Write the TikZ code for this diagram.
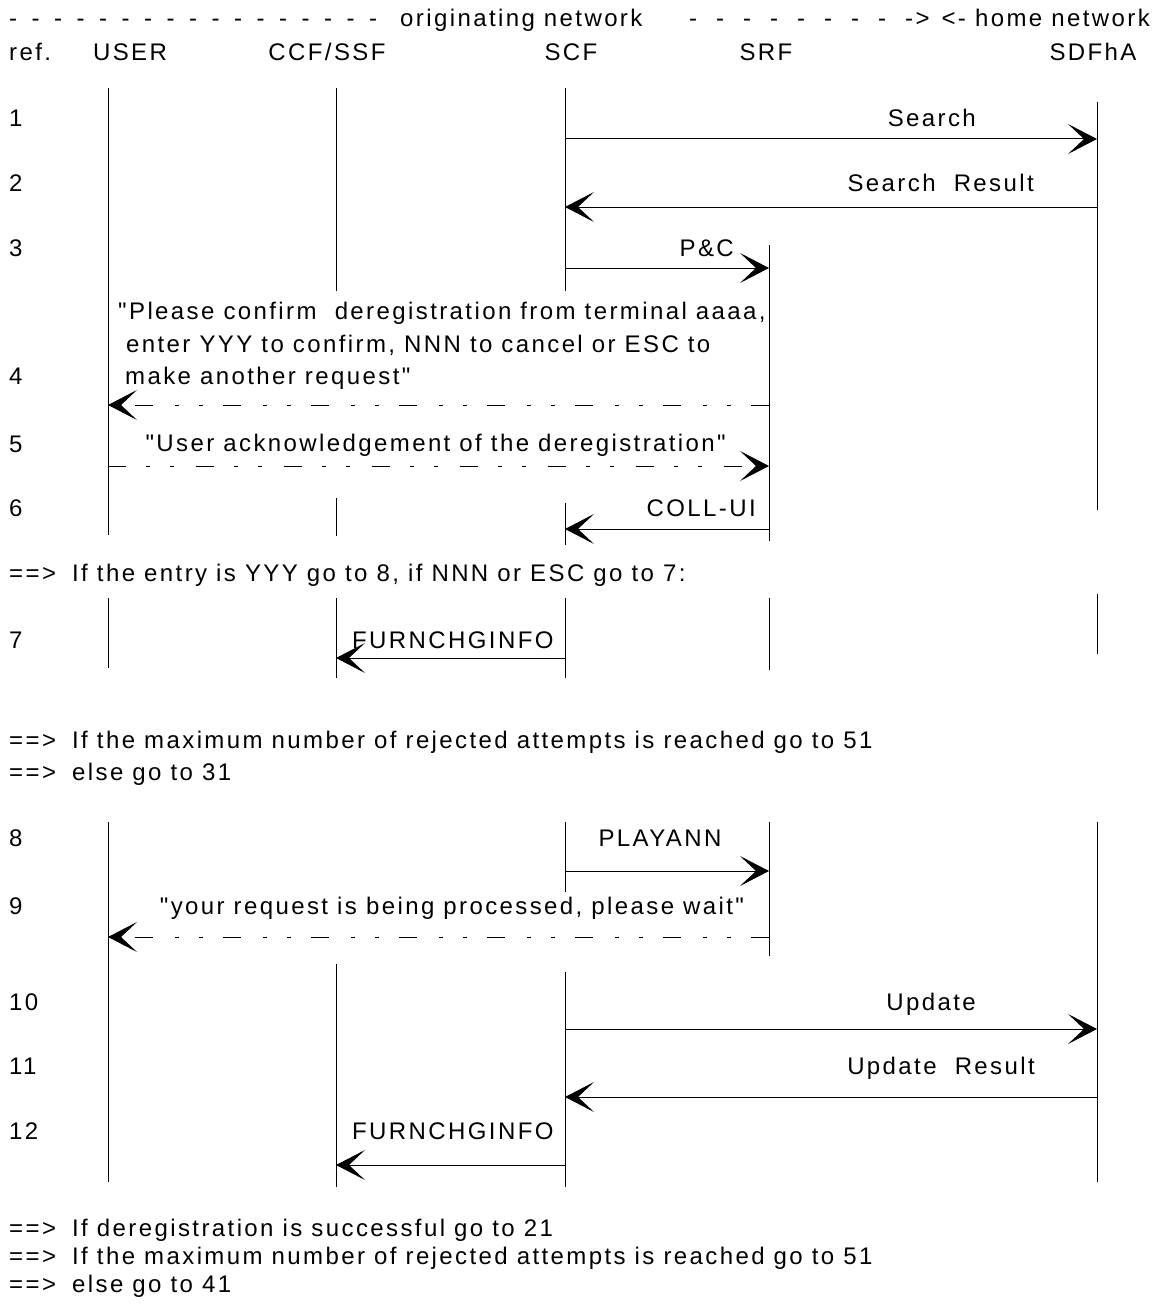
\documentclass[tikz,border=0pt]{standalone}
\usepackage{fontspec}
\newfontfamily\lsf[LetterSpace=10]{Liberation Sans}
\usetikzlibrary{arrows.meta}
\begin{document}
\begin{tikzpicture}[x=1pt,y=-1pt,
  txt/.style={font=\lsf\fontsize{24}{33}\selectfont, inner sep=0pt, text height=17pt, text depth=0pt},
  life/.style={line width=0.9pt},
  msg/.style={line width=1pt, -{Stealth[length=29pt,width=30pt,inset=16pt]}},
  ui/.style={msg, dash pattern=on 18pt off 20pt on 4pt off 20pt on 4pt off 22pt}]
\useasboundingbox (0,0) rectangle (1160,1308);
\def\xU{108}\def\xC{336}\def\xS{565}\def\xR{769}\def\xD{1097}
% header
\node[txt,anchor=west] (hdl) at (9,18) {{\spaceskip=14.5pt - - - - - - - - - - - - - - - - -}};
\node[txt,anchor=west] (orig) at (400,18) {originating network};
\node[txt,anchor=west] (hdr) at (689,18) {{\spaceskip=19pt - - - - - - - - ->}};
\node[txt,anchor=east] (home) at (1150,18) {<- home network};
\node[txt,anchor=west] (ref) at (9,52) {ref.};
\node[txt] (nU) at (130,52) {USER};
\node[txt] (nC) at (327,52) {CCF/SSF};
\node[txt] (nS) at (571,52) {SCF};
\node[txt] (nR) at (766,52) {SRF};
\node[txt] (nD) at (1093,52) {SDFhA};
% lifelines block A
\draw[life] (\xU,88) coordinate (uA1) -- (\xU,535) coordinate (uA2);
\draw[life] (\xC,88) coordinate (cA1) -- (\xC,291) coordinate (cA2);
\draw[life] (\xC,498) coordinate (cA3) -- (\xC,536) coordinate (cA4);
\draw[life] (\xS,88) coordinate (sA1) -- (\xS,291) coordinate (sA2);
\draw[life] (\xS,503) coordinate (sA3) -- (\xS,545) coordinate (sA4);
\draw[life] (\xR,245) coordinate (rA1) -- (\xR,541) coordinate (rA2);
\draw[life] (\xD,102) coordinate (dA1) -- (\xD,510) coordinate (dA2);
% lifelines row 7
\draw[life] (\xU,598) coordinate (u71) -- (\xU,668) coordinate (u72);
\draw[life] (\xC,598) coordinate (c71) -- (\xC,678) coordinate (c72);
\draw[life] (\xS,598) coordinate (s71) -- (\xS,678) coordinate (s72);
\draw[life] (\xR,598) coordinate (r71) -- (\xR,670) coordinate (r72);
\draw[life] (\xD,594) coordinate (d71) -- (\xD,654) coordinate (d72);
% lifelines block B
\draw[life] (\xU,822) coordinate (uB1) -- (\xU,1182) coordinate (uB2);
\draw[life] (\xC,964) coordinate (cB1) -- (\xC,1187) coordinate (cB2);
\draw[life] (\xS,822) coordinate (sB1) -- (\xS,892) coordinate (sB2);
\draw[life] (\xS,972) coordinate (sB3) -- (\xS,1187) coordinate (sB4);
\draw[life] (\xR,822) coordinate (rB1) -- (\xR,956) coordinate (rB2);
\draw[life] (\xD,822) coordinate (dB1) -- (\xD,1182) coordinate (dB2);
% row numbers
\foreach \n/\y in {1/118,2/183,3/248,4/376,5/444,6/508,7/640,8/838,9/906,10/1002,11/1066,12/1131}
  \node[txt,anchor=west] (row\n) at (9,\y) {\n};
% messages
\coordinate (m1a) at (\xS,139); \coordinate (m1b) at (\xD,139);
\draw[msg] (m1a) -- (m1b);
\node[txt,anchor=east] (l1) at (976,118) {Search};
\coordinate (m2a) at (\xD,207); \coordinate (m2b) at (\xS,207);
\draw[msg] (m2a) -- (m2b);
\node[txt,anchor=east] (l2) at (1034,183) {Search\ \ Result};
\coordinate (m3a) at (\xS,268); \coordinate (m3b) at (\xR,268);
\draw[msg] (m3a) -- (m3b);
\node[txt,anchor=east] (l3) at (734,248) {P\&C};
\coordinate (m4a) at (\xR,405); \coordinate (m4b) at (\xU,405);
\draw[ui] (m4a) -- (m4b);
\node[txt,anchor=west] (l4a) at (118,311) {"Please confirm\ \ deregistration from terminal aaaa,};
\node[txt,anchor=west] (l4b) at (126,344) {enter YYY to confirm, NNN to cancel or ESC to};
\node[txt,anchor=west] (l4c) at (125,376) {make another request"};
\coordinate (m5a) at (\xU,466); \coordinate (m5b) at (\xR,466);
\draw[ui] (m5a) -- (m5b);
\node[txt,anchor=east] (l5) at (726,443) {"User acknowledgement of the deregistration"};
\coordinate (m6a) at (\xR,529); \coordinate (m6b) at (\xS,529);
\draw[msg] (m6a) -- (m6b);
\node[txt,anchor=east] (l6) at (756,508) {COLL-UI};
\node[txt,anchor=west] (g1) at (9,573) {==>};
\node[txt,anchor=west] (t1) at (72,573) {If the entry is YYY go to 8, if NNN or ESC go to 7:};
\coordinate (m7a) at (\xS,658); \coordinate (m7b) at (\xC,658);
\draw[msg] (m7a) -- (m7b);
\node[txt,anchor=west] (l7) at (352,640) {FURNCHGINFO};
\node[txt,anchor=west] (g2) at (9,740) {==>};
\node[txt,anchor=west] (t2) at (72,740) {If the maximum number of rejected attempts is reached go to 51};
\node[txt,anchor=west] (g3) at (9,772) {==>};
\node[txt,anchor=west] (t3) at (72,772) {else go to 31};
\coordinate (m8a) at (\xS,871); \coordinate (m8b) at (\xR,871);
\draw[msg] (m8a) -- (m8b);
\node[txt] (l8) at (660,838) {PLAYANN};
\coordinate (m9a) at (\xR,937); \coordinate (m9b) at (\xU,937);
\draw[ui] (m9a) -- (m9b);
\node[txt] (l9) at (452,906) {"your request is being processed, please wait"};
\coordinate (m10a) at (\xS,1029); \coordinate (m10b) at (\xD,1029);
\draw[msg] (m10a) -- (m10b);
\node[txt,anchor=east] (l10) at (976,1002) {Update};
\coordinate (m11a) at (\xD,1097); \coordinate (m11b) at (\xS,1097);
\draw[msg] (m11a) -- (m11b);
\node[txt,anchor=east] (l11) at (1035,1066) {Update\ \ Result};
\coordinate (m12a) at (\xS,1165); \coordinate (m12b) at (\xC,1165);
\draw[msg] (m12a) -- (m12b);
\node[txt,anchor=west] (l12) at (352,1131) {FURNCHGINFO};
\node[txt,anchor=west] (g4) at (9,1228) {==>};
\node[txt,anchor=west] (t4) at (72,1228) {If deregistration is successful go to 21};
\node[txt,anchor=west] (g5) at (9,1256) {==>};
\node[txt,anchor=west] (t5) at (72,1256) {If the maximum number of rejected attempts is reached go to 51};
\node[txt,anchor=west] (g6) at (9,1284) {==>};
\node[txt,anchor=west] (t6) at (72,1284) {else go to 41};
\end{tikzpicture}
\end{document}
